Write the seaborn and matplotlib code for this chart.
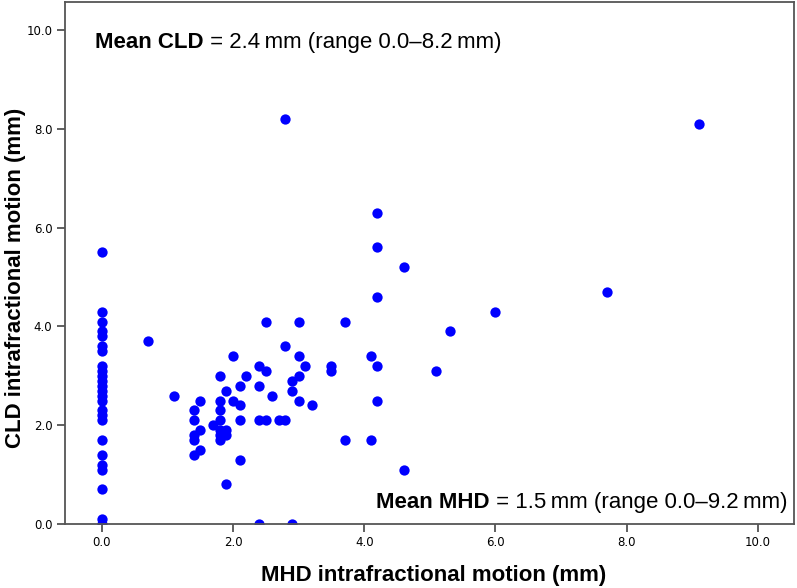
import matplotlib
matplotlib.use("Agg")
import matplotlib.pyplot as plt
import seaborn as sns
import pandas as pd

# MHD (x) and CLD (y) intrafractional motion, mm
mhd = [0.0] * 25 + [
    0.7, 1.1, 1.4, 1.4, 1.4, 1.4, 1.4, 1.5, 1.5, 1.5, 1.7,
    1.8, 1.8, 1.8, 1.8, 1.8, 1.8, 1.8, 1.9, 1.9, 1.9, 1.9,
    2.0, 2.0, 2.1, 2.1, 2.1, 2.1, 2.2, 2.4, 2.4, 2.4, 2.4,
    2.5, 2.5, 2.5, 2.6, 2.7, 2.8, 2.8, 2.8, 2.9, 2.9, 2.9,
    3.0, 3.0, 3.0, 3.0, 3.1, 3.2, 3.5, 3.5, 3.7, 3.7, 4.1, 4.1,
    4.2, 4.2, 4.2, 4.2, 4.2, 4.6, 4.6, 5.1, 5.3, 6.0, 7.7, 9.1,
]
cld = [
    0.0, 0.1, 0.7, 1.1, 1.2, 1.4, 1.7, 2.1, 2.2, 2.3, 2.5, 2.6, 2.7,
    2.8, 2.9, 3.0, 3.1, 3.2, 3.5, 3.6, 3.8, 3.9, 4.1, 4.3, 5.5,
] + [
    3.7, 2.6, 2.3, 2.1, 1.8, 1.7, 1.4, 2.5, 1.9, 1.5, 2.0,
    3.0, 2.5, 2.3, 2.1, 1.9, 1.8, 1.7, 2.7, 1.9, 1.8, 0.8,
    3.4, 2.5, 2.8, 2.4, 2.1, 1.3, 3.0, 3.2, 2.8, 2.1, 0.0,
    4.1, 3.1, 2.1, 2.6, 2.1, 2.1, 3.6, 8.2, 2.9, 2.7, 0.0,
    4.1, 3.4, 3.0, 2.5, 3.2, 2.4, 3.2, 3.1, 4.1, 1.7, 3.4, 1.7,
    6.3, 5.6, 4.6, 3.2, 2.5, 5.2, 1.1, 3.1, 3.9, 4.3, 4.7, 8.1,
]
ticks = [0.0, 2.0, 4.0, 6.0, 8.0, 10.0]
tick_labels = ["0.0", "2.0", "4.0", "6.0", "8.0", "10.0"]

df = pd.DataFrame({"mhd": mhd, "cld": cld})

sns.set_style("white")
plt.rcParams["font.family"] = ["Liberation Sans", "DejaVu Sans"]
plt.rcParams["text.color"] = "black"
plt.rcParams["axes.labelcolor"] = "black"
plt.rcParams["xtick.labelcolor"] = "black"
plt.rcParams["ytick.labelcolor"] = "black"

fig = plt.figure(figsize=(7.97, 5.88), dpi=100)
ax = fig.add_axes([65 / 797, 64 / 588, 729 / 797, 522 / 588])

sns.scatterplot(data=df, x="mhd", y="cld", ax=ax, color="#0000ff",
                s=55, linewidth=0, legend=False)

ax.set_xlim(-0.56, 10.55)
ax.set_ylim(0, 10.57)
ax.set_xticks(ticks)
ax.set_yticks(ticks)
ax.set_xticklabels(tick_labels, family="DejaVu Sans", fontsize=8.5)
ax.set_yticklabels(tick_labels, family="DejaVu Sans", fontsize=8.5)
ax.tick_params(axis="both", direction="out", length=6, width=1.2,
               color="#444444", labelcolor="black", pad=3,
               bottom=True, left=True)

for sp in ax.spines.values():
    sp.set_color("#555555")
    sp.set_linewidth(1.3)

ax.set_xlabel("MHD intrafractional motion (mm)", fontsize=16,
              fontweight="bold", color="black")
ax.set_ylabel("CLD intrafractional motion (mm)", fontsize=16,
              fontweight="bold", color="black")
ax.xaxis.set_label_coords(0.506, -0.078)
ax.yaxis.set_label_coords(-0.054, 0.471)

# annotations: bold lead-in followed by regular text
t1 = ax.text(95 / 797, 1 - 48 / 588, "Mean CLD", transform=fig.transFigure,
             fontsize=16, fontweight="bold", ha="left", va="baseline",
             color="black")
ax.annotate(" = 2.4\u2009mm (range 0.0\u20138.2\u2009mm)", xy=(1, 0),
            xycoords=t1, fontsize=16, ha="left", va="bottom", color="black")

t2 = ax.text(787 / 797, 1 - 508 / 588,
             " = 1.5\u2009mm (range 0.0\u20139.2\u2009mm)",
             transform=fig.transFigure, fontsize=16, ha="right",
             va="baseline", color="black")
ax.annotate("Mean MHD", xy=(0, 0), xycoords=t2, fontsize=16,
            fontweight="bold", ha="right", va="bottom", color="black")

fig.savefig("out.png", dpi=100)
